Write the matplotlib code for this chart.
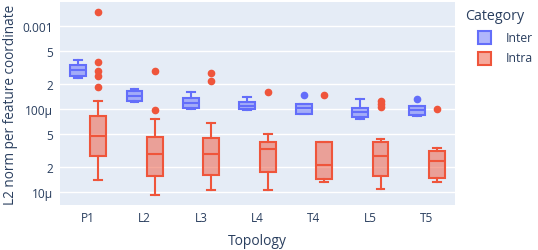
import matplotlib.pyplot as plt
from matplotlib.patches import Rectangle

plt.rcParams['font.family'] = ['Open Sans', 'DejaVu Sans']

## data
topology = ['P1', 'L2', 'L3', 'L4', 'T4', 'L5', 'T5']
categories = ['Inter', 'Intra']

# Inter: whisker low, q1, median, q3, whisker high
inter_lo = [2.34e-4, 1.21e-4, 0.99e-4, 0.96e-4, 0.87e-4, 7.45e-5, 8.2e-5]
inter_q1 = [2.45e-4, 1.25e-4, 1.02e-4, 0.99e-4, 0.87e-4, 7.87e-5, 8.5e-5]
inter_med = [2.92e-4, 1.43e-4, 1.18e-4, 1.09e-4, 1.01e-4, 9.05e-5, 9.6e-5]
inter_q3 = [3.39e-4, 1.62e-4, 1.35e-4, 1.20e-4, 1.14e-4, 1.03e-4, 1.07e-4]
inter_hi = [3.89e-4, 1.73e-4, 1.59e-4, 1.38e-4, 1.14e-4, 1.30e-4, 1.07e-4]
inter_out = [[], [], [], [], [1.47e-4], [], [1.32e-4]]

# Intra
intra_lo = [1.37e-5, 9.1e-6, 1.06e-5, 1.06e-5, 1.31e-5, 1.07e-5, 1.32e-5]
intra_q1 = [2.67e-5, 1.56e-5, 1.59e-5, 1.74e-5, 1.42e-5, 1.54e-5, 1.45e-5]
intra_med = [4.73e-5, 2.82e-5, 2.84e-5, 3.30e-5, 2.12e-5, 2.67e-5, 2.36e-5]
intra_q3 = [8.24e-5, 4.60e-5, 4.48e-5, 4.0e-5, 4.0e-5, 3.94e-5, 3.07e-5]
intra_hi = [1.25e-4, 7.51e-5, 6.73e-5, 4.96e-5, 4.0e-5, 4.35e-5, 3.36e-5]
intra_out = [[1.47e-3, 3.65e-4, 2.83e-4, 2.45e-4, 1.83e-4],
             [2.85e-4, 9.57e-5],
             [2.67e-4, 2.16e-4],
             [1.60e-4],
             [1.47e-4],
             [1.25e-4, 1.15e-4, 1.06e-4],
             [9.8e-5]]

BLUE = '#636efa'
RED = '#EF553B'
TXT = '#2a3f5f'

W, H = 538, 251
fig = plt.figure(figsize=(W/100, H/100), dpi=100)
ax = fig.add_axes([60/W, 45/H, 395/W, 203/H])
ax.set_facecolor('#E5ECF6')
for s in ax.spines.values():
    s.set_visible(False)


def stats(lo, q1, med, q3, hi, out):
    return [dict(whislo=a, q1=b, med=c, q3=d, whishi=e, fliers=f)
            for a, b, c, d, e, f in zip(lo, q1, med, q3, hi, out)]


def draw(st, offset, color):
    pos = [i + offset for i in range(len(st))]
    ax.bxp(st, positions=pos, widths=0.28, patch_artist=True,
           showfliers=True, capwidths=0.14,
           boxprops=dict(facecolor=color + '80', edgecolor=color, linewidth=1.5),
           medianprops=dict(color=color, linewidth=1.5),
           whiskerprops=dict(color=color, linewidth=1.5),
           capprops=dict(color=color, linewidth=1.5),
           flierprops=dict(marker='o', markerfacecolor=color, markeredgecolor=color,
                           markersize=4.5))


draw(stats(inter_lo, inter_q1, inter_med, inter_q3, inter_hi, inter_out), -0.18, BLUE)
draw(stats(intra_lo, intra_q1, intra_med, intra_q3, intra_hi, intra_out), 0.18, RED)

ax.set_yscale('log')
ax.set_ylim(6.9e-6, 1.94e-3)
ax.set_xlim(-0.5, len(topology) - 0.5)
ax.set_xticks(range(len(topology)))
ax.set_xticklabels(topology)

yt = [1e-5, 2e-5, 5e-5, 1e-4, 2e-4, 5e-4, 1e-3]
ax.yaxis.set_minor_locator(plt.NullLocator())
ax.set_yticks(yt)
ax.set_yticklabels(['10µ', '2', '5', '100µ', '2', '5', '0.001'])
for lab, v in zip(ax.get_yticklabels(), yt):
    lab.set_fontsize(8.6 if v in (1e-5, 1e-4, 1e-3) else 7)
ax.tick_params(length=0, colors=TXT, labelsize=8.6)
ax.tick_params(axis='y', pad=5)
ax.tick_params(axis='x', pad=4)
ax.grid(True, axis='y', color='white', linewidth=1)
ax.set_axisbelow(True)

ax.set_xlabel('Topology', color=TXT, fontsize=10, labelpad=7)
ax.set_ylabel('L2 norm per feature coordinate', color=TXT, fontsize=9.8, labelpad=3)

## legend, placed by hand like plotly's
fig.text(465/W, 1 - 17/H, 'Category', color=TXT, fontsize=10.3, va='center', ha='left')
for i, (name, col) in enumerate(zip(categories, [BLUE, RED])):
    yc = 38 + 21 * i
    fig.patches.append(Rectangle((478/W, 1 - (yc + 6.5)/H), 13/W, 13/H,
                                 transform=fig.transFigure, facecolor=col + '80',
                                 edgecolor=col, linewidth=1.5))
    fig.text(506/W, 1 - yc/H, name, color=TXT, fontsize=8.8, va='center', ha='left')

plt.savefig('out.png', dpi=100)
